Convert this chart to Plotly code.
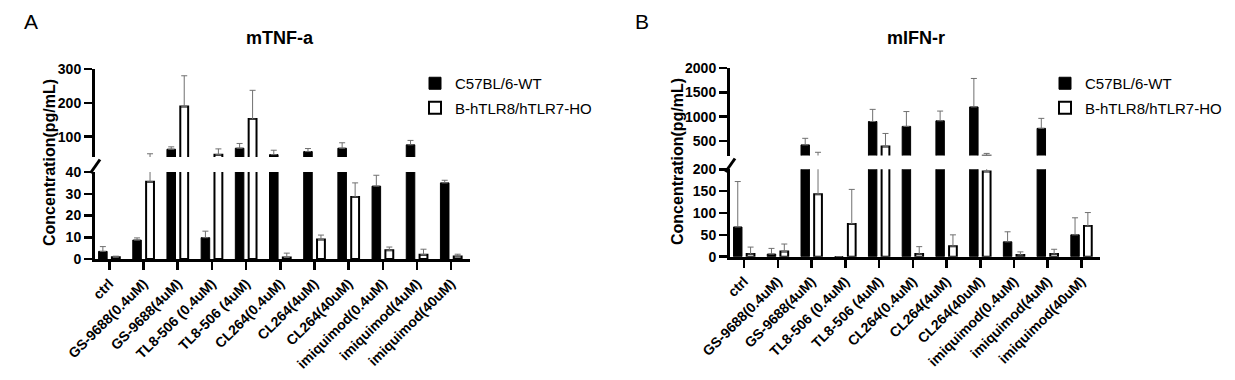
import plotly.graph_objects as go

categories = ["ctrl", "GS-9688(0.4uM)", "GS-9688(4uM)", "TL8-506 (0.4uM)", "TL8-506 (4uM)",
              "CL264(0.4uM)", "CL264(4uM)", "CL264(40uM)", "imiquimod(0.4uM)",
              "imiquimod(4uM)", "imiquimod(40uM)"]
series_names = ["C57BL/6-WT", "B-hTLR8/hTLR7-HO"]

tnf_wt = [3.5, 8.7, 63, 9.8, 66, 47, 56, 66, 33.5, 76, 35]
tnf_wt_err = [2.2, 1.0, 7, 3, 14, 13, 9, 16, 5, 13, 1.2]
tnf_ho = [0.8, 35.5, 189, 47, 152, 0.7, 9, 28.5, 4, 2, 1.2]
tnf_ho_err = [0.5, 14, 91, 17, 85, 2, 2, 6.5, 1.5, 2.5, 1]

ifn_wt = [68, 6, 420, 0, 900, 800, 915, 1200, 34, 760, 50]
ifn_wt_err = [104, 13, 135, 0, 250, 305, 200, 585, 23, 205, 39]
ifn_ho = [6, 12, 143, 75, 385, 6, 24, 195, 4, 6, 70]
ifn_ho_err = [16, 17, 125, 79, 270, 17, 26, 50, 7, 11, 31]

tnf_lower_ticks = [0, 10, 20, 30, 40]
tnf_upper_ticks = [100, 200, 300]
ifn_lower_ticks = [0, 50, 100, 150, 200]
ifn_upper_ticks = [500, 1000, 1500, 2000]

W, H = 1235, 380
FONT = "Liberation Sans, Arial, sans-serif"


def px(x):
    return x / W


def py(y):
    return 1 - y / H


fig = go.Figure()


def add_bars(xa, ya, wt, wte, ho, hoe, legend, show):
    fig.add_trace(go.Bar(
        x=categories, y=wt, name=series_names[0], xaxis=xa, yaxis=ya,
        offset=-0.315, width=0.25,
        marker=dict(color="black", line=dict(color="black", width=1)),
        error_y=dict(type="data", symmetric=False, array=wte, arrayminus=[0] * len(wte),
                     color="#707070", thickness=1, width=3),
        legend=legend, showlegend=show, legendgroup=legend + "a",
    ))
    fig.add_trace(go.Bar(
        x=categories, y=ho, name=series_names[1], xaxis=xa, yaxis=ya,
        offset=0.075, width=0.23,
        marker=dict(color="white", line=dict(color="black", width=2)),
        error_y=dict(type="data", symmetric=False, array=hoe, arrayminus=[0] * len(hoe),
                     color="#707070", thickness=1, width=3),
        legend=legend, showlegend=show, legendgroup=legend + "b",
    ))


add_bars("x", "y", tnf_wt, tnf_wt_err, tnf_ho, tnf_ho_err, "legend", True)
add_bars("x2", "y2", tnf_wt, tnf_wt_err, tnf_ho, tnf_ho_err, "legend", False)
add_bars("x3", "y3", ifn_wt, ifn_wt_err, ifn_ho, ifn_ho_err, "legend2", True)
add_bars("x4", "y4", ifn_wt, ifn_wt_err, ifn_ho, ifn_ho_err, "legend2", False)

tickfont = dict(family=FONT, size=14, color="black", weight="bold")
xr = [-0.42, 10.55]
xA = [px(95), px(470)]
xB = [px(730), px(1100)]

xcommon = dict(type="category", range=xr, showgrid=False, zeroline=False, fixedrange=True,
               automargin=False)
xlower = dict(xcommon, showline=True, linewidth=3, linecolor="black", ticks="outside",
              ticklen=8, tickwidth=2.5, tickcolor="black", tickangle=-45, tickfont=tickfont)
xupper = dict(xcommon, showline=False, ticks="", showticklabels=False)
ycommon = dict(showgrid=False, zeroline=False, showline=True, linewidth=3, linecolor="black",
               ticks="outside", ticklen=8, tickwidth=2.5, tickcolor="black", tickfont=tickfont,
               fixedrange=True, automargin=False)

legend_common = dict(xanchor="left", yanchor="top", bgcolor="rgba(0,0,0,0)",
                     font=dict(family=FONT, size=15, color="black"), traceorder="grouped",
                     tracegroupgap=2)

fig.update_layout(
    template="none",
    width=W, height=H, autosize=False,
    margin=dict(l=0, r=0, t=0, b=0, pad=0),
    paper_bgcolor="white", plot_bgcolor="white",
    barmode="overlay",
    font=dict(family=FONT, color="black"),
    xaxis=dict(xlower, domain=xA, anchor="y"),
    yaxis=dict(ycommon, domain=[py(259), py(172)], range=[0, 40], tickvals=tnf_lower_ticks, anchor="x"),
    xaxis2=dict(xupper, domain=xA, anchor="y2"),
    yaxis2=dict(ycommon, domain=[py(157), py(69)], range=[40, 300], tickvals=tnf_upper_ticks, anchor="x2"),
    xaxis3=dict(xlower, domain=xB, anchor="y3"),
    yaxis3=dict(ycommon, domain=[py(256.7), py(169.3)], range=[0, 200], tickvals=ifn_lower_ticks, anchor="x3"),
    xaxis4=dict(xupper, domain=xB, anchor="y4"),
    yaxis4=dict(ycommon, domain=[py(155.6), py(68)], range=[200, 2000], tickvals=ifn_upper_ticks, anchor="x4"),
    legend=dict(legend_common, x=px(415), y=py(67)),
    legend2=dict(legend_common, x=px(1045), y=py(67)),
)

ann = []
ann.append(dict(text="A", x=px(22), y=py(22), xanchor="left", yanchor="middle",
                font=dict(family=FONT, size=21, color="black")))
ann.append(dict(text="B", x=px(633), y=py(22), xanchor="left", yanchor="middle",
                font=dict(family=FONT, size=21, color="black")))
ann.append(dict(text="<b>mTNF-a</b>", x=px(280), y=py(38), xanchor="center", yanchor="middle",
                font=dict(family=FONT, size=18, color="black")))
ann.append(dict(text="<b>mIFN-r</b>", x=px(916), y=py(38), xanchor="center", yanchor="middle",
                font=dict(family=FONT, size=18, color="black")))
ann.append(dict(text="<b>Concentration(pg/mL)</b>", x=px(49), y=py(163), textangle=-90,
                xanchor="center", yanchor="middle", font=dict(family=FONT, size=16, color="black")))
ann.append(dict(text="<b>Concentration(pg/mL)</b>", x=px(677), y=py(162), textangle=-90,
                xanchor="center", yanchor="middle", font=dict(family=FONT, size=16, color="black")))
for a in ann:
    a.update(xref="paper", yref="paper", showarrow=False)
fig.update_layout(annotations=ann)

# broken-axis marks
fig.add_shape(type="line", xref="paper", yref="paper", x0=px(90.5), y0=py(173), x1=px(100), y1=py(159.5),
              line=dict(color="black", width=3))
fig.add_shape(type="line", xref="paper", yref="paper", x0=px(725.5), y0=py(172), x1=px(735), y1=py(158.5),
              line=dict(color="black", width=3))

fig.write_html("out.html", config={"displayModeBar": False, "staticPlot": True},
               post_script="document.body.style.margin='0';")
